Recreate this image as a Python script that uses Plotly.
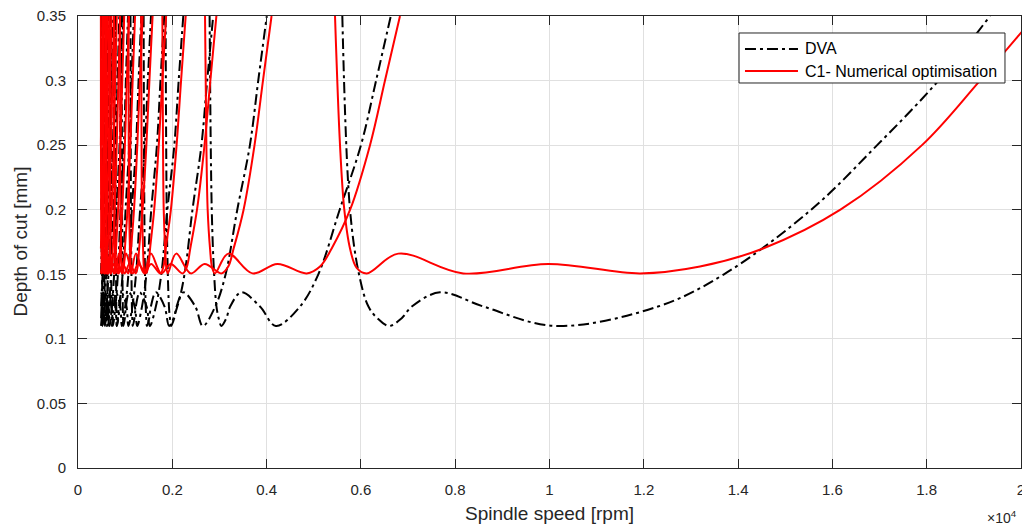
import plotly.graph_objects as go

# ---------------- axis ticks ----------------
x_tick_values = [0, 2000, 4000, 6000, 8000, 10000, 12000, 14000, 16000, 18000, 20000]
x_tick_labels = ['0', '0.2', '0.4', '0.6', '0.8', '1', '1.2', '1.4', '1.6', '1.8', '2']
y_tick_values = [0, 0.05, 0.1, 0.15, 0.2, 0.25, 0.3, 0.35]
y_tick_labels = ['0', '0.05', '0.1', '0.15', '0.2', '0.25', '0.3', '0.35']

# ---------------- DVA stability lobes ----------------
# depth [mm] of each characteristic point along a lobe (left branch -> right branch)
dva_depth_mm = [0.35, 0.2, 0.15, 0.125, 0.116, 0.11, 0.116, 0.125, 0.136, 0.125, 0.11,
                0.125, 0.15, 0.2, 0.25, 0.3, 0.35]
# spindle speed [rpm] of those points, one row per lobe (None = outside the computed speed range)
N = None
dva_lobe_speeds_rpm = [
    [5606, 5769, 5960, 6160, 6348, 6600, 6865, 7080, 7678, 8600, 10117, 12300, 13700, 15550, 16950, 18250, 19343],
    [2791, 2837, 2887, 2937, 2983, 3040, 3146, 3228, 3464, 3860, 4197, 4707, 5097, 5550, 6001, 6322, 6634],
    [1858, 1881, 1905, 1929, 1949, 1975, 2041, 2091, 2236, 2488, 2648, 2911, 3131, 3378, 3646, 3823, 4004],
    [1392, 1407, 1421, 1436, 1448, 1462, 1510, 1546, 1651, 1836, 1934, 2107, 2259, 2428, 2618, 2740, 2867],
    [1113, 1123, 1134, 1143, 1151, 1161, 1199, 1226, 1309, 1455, 1523, 1651, 1767, 1895, 2043, 2135, 2233],
    [927, 935, 943, 950, 956, 963, 994, 1016, 1084, 1204, 1256, 1357, 1451, 1554, 1674, 1749, 1829],
    [795, 801, 807, 812, 817, 822, 848, 868, 925, 1028, 1069, 1152, 1231, 1317, 1419, 1481, 1548],
    [695, 700, 705, 710, 713, 718, 740, 757, 807, 896, 931, 1001, 1069, 1142, 1231, 1285, 1342],
    [618, 622, 626, 630, 633, 637, 657, 671, 715, 794, 824, 885, 945, 1009, 1087, 1134, 1185],
    [556, 560, 563, 567, 569, 572, 590, 603, 643, 714, 739, 793, 846, 903, 973, 1015, 1060],
    [506, 509, 512, 515, 517, 519, 536, 547, 583, 648, 670, 718, 766, 818, 881, 919, 960],
    [N, N, N, N, N, N, 490, 501, 534, 593, 613, 656, 700, 747, 804, 839, 876],
    [N, N, N, N, N, N, N, N, 492, 546, 564, 604, 645, 687, 740, 772, 806],
    [N, N, N, N, N, N, N, N, N, 507, 523, 560, 597, 637, 686, 715, 747],
    [N, N, N, N, N, N, N, N, N, N, 488, 522, 556, 593, 639, 666, 695],
    [N, N, N, N, N, N, N, N, N, N, N, 488, 521, 555, 597, 623, 651],
    [N, N, N, N, N, N, N, N, N, N, N, N, 489, 521, 561, 585, 611],
    [N, N, N, N, N, N, N, N, N, N, N, N, N, 492, 529, 552, 576],
    [N, N, N, N, N, N, N, N, N, N, N, N, N, N, 501, 522, 545],
    [N, N, N, N, N, N, N, N, N, N, N, N, N, N, N, 495, 517],
]

# ---------------- C1 numerical optimisation stability lobes ----------------
c1_depth_mm = [0.35, 0.25, 0.2, 0.17, 0.155, 0.1507, 0.166, 0.1507, 0.158, 0.1507, 0.156,
               0.17, 0.2, 0.25, 0.3, 0.35]
c1_lobe_speeds_rpm = [
    [5451, 5557, 5648, 5769, 5910, 6123, 6793, 8170, 9975, 11920, 13192, 14530, 16170, 17900, 19130, 20300],
    [2694, 2723, 2750, 2800, 2846, 2905, 3187, 3701, 4229, 4850, 5133, 5380, 5771, 6193, 6511, 6829],
    [1789, 1803, 1818, 1848, 1874, 1905, 2082, 2392, 2684, 3044, 3187, 3301, 3512, 3744, 3923, 4105],
    [1339, 1348, 1357, 1380, 1397, 1417, 1546, 1767, 1965, 2218, 2310, 2381, 2524, 2683, 2807, 2935],
    [1070, 1076, 1083, 1101, 1114, 1128, 1230, 1401, 1550, 1745, 1812, 1862, 1970, 2091, 2186, 2284],
    [891, 896, 901, 915, 926, 937, 1021, 1161, 1280, 1438, 1491, 1529, 1616, 1713, 1790, 1869],
    [763, 767, 771, 784, 792, 801, 872, 991, 1090, 1223, 1266, 1297, 1369, 1450, 1515, 1582],
    [668, 671, 674, 685, 692, 700, 762, 864, 949, 1064, 1100, 1126, 1188, 1258, 1313, 1371],
    [593, 596, 599, 608, 615, 621, 676, 766, 840, 941, 973, 995, 1049, 1110, 1159, 1210],
    [534, 536, 539, 547, 553, 558, 608, 688, 754, 844, 872, 891, 939, 994, 1037, 1083],
    [485, 487, 490, 497, 502, 507, 552, 625, 684, 765, 790, 807, 850, 899, 939, 980],
    [N, N, N, N, N, N, 505, 572, 626, 700, 722, 737, 777, 821, 857, 894],
    [N, N, N, N, N, N, N, 527, 577, 645, 665, 679, 715, 756, 789, 823],
    [N, N, N, N, N, N, N, 489, 535, 598, 616, 629, 662, 700, 730, 762],
    [N, N, N, N, N, N, N, N, 498, 557, 574, 586, 617, 652, 680, 710],
    [N, N, N, N, N, N, N, N, N, 521, 537, 548, 577, 610, 636, 664],
    [N, N, N, N, N, N, N, N, N, 490, 505, 515, 542, 573, 598, 624],
    [N, N, N, N, N, N, N, N, N, N, N, 486, 511, 540, 564, 588],
    [N, N, N, N, N, N, N, N, N, N, N, N, N, 511, 533, 556],
    [N, N, N, N, N, N, N, N, N, N, N, N, N, 485, 506, 528],
]

series_names = ['DVA', 'C1- Numerical optimisation']


def lobes_to_xy(depths, lobes):
    xs, ys = [], []
    for lobe in lobes:
        pts = [(s, d) for s, d in zip(lobe, depths) if s is not None]
        if len(pts) < 2:
            continue
        xs += [p[0] for p in pts] + [None]
        ys += [p[1] for p in pts] + [None]
    return xs, ys


dva_x, dva_y = lobes_to_xy(dva_depth_mm, dva_lobe_speeds_rpm)
c1_x, c1_y = lobes_to_xy(c1_depth_mm, c1_lobe_speeds_rpm)

DVA_DASH = '11px,4px,3px,4px'

fig = go.Figure()
fig.add_trace(go.Scatter(
    x=dva_x, y=dva_y, mode='lines', name=series_names[0], connectgaps=False, showlegend=False,
    line=dict(color='#000000', width=2, dash=DVA_DASH, shape='spline', smoothing=1.0),
))
fig.add_trace(go.Scatter(
    x=c1_x, y=c1_y, mode='lines', name=series_names[1], connectgaps=False, showlegend=False,
    line=dict(color='#ff0000', width=2, shape='spline', smoothing=1.0),
))

axis_color = '#262626'
grid_color = '#e0e0e0'
font_family = 'Liberation Sans, Arial, sans-serif'
tick_font = dict(family=font_family, size=15, color=axis_color)

fig.update_xaxes(
    range=[0, 20000], tickvals=x_tick_values, ticktext=x_tick_labels,
    ticks='inside', ticklen=9, tickwidth=1, tickcolor=axis_color,
    showline=True, linecolor=axis_color, linewidth=1, mirror='ticks',
    showgrid=True, gridcolor=grid_color, gridwidth=1, zeroline=False,
    tickfont=tick_font, ticklabelstandoff=8, ticklabeloverflow='allow',
)
fig.update_yaxes(
    range=[0, 0.35], tickvals=y_tick_values, ticktext=y_tick_labels,
    ticks='inside', ticklen=9, tickwidth=1, tickcolor=axis_color,
    showline=True, linecolor=axis_color, linewidth=1, mirror='ticks',
    showgrid=True, gridcolor=grid_color, gridwidth=1, zeroline=False,
    tickfont=tick_font, ticklabelstandoff=8, ticklabeloverflow='allow',
)

# ---- legend box drawn in paper coordinates (matches the reference's boxed legend) ----
leg_x0, leg_x1, leg_y0, leg_y1 = 0.7010, 0.9830, 0.8518, 0.9624
sample_x0, sample_x1, text_x = 0.7073, 0.7635, 0.7688
row_y = [0.9270, 0.8783]

shapes = [
    dict(type='rect', xref='paper', yref='paper', x0=leg_x0, x1=leg_x1, y0=leg_y0, y1=leg_y1,
         fillcolor='white', line=dict(color=axis_color, width=1), layer='above'),
    dict(type='line', xref='paper', yref='paper', x0=sample_x0, x1=sample_x1, y0=row_y[0], y1=row_y[0],
         line=dict(color='#000000', width=2, dash=DVA_DASH), layer='above'),
    dict(type='line', xref='paper', yref='paper', x0=sample_x0, x1=sample_x1, y0=row_y[1], y1=row_y[1],
         line=dict(color='#ff0000', width=2), layer='above'),
]

annotations = [
    dict(text=series_names[0], xref='paper', yref='paper', x=text_x, y=row_y[0],
         xanchor='left', yanchor='middle', showarrow=False,
         font=dict(family=font_family, size=16, color='#000000')),
    dict(text=series_names[1], xref='paper', yref='paper', x=text_x, y=row_y[1],
         xanchor='left', yanchor='middle', showarrow=False,
         font=dict(family=font_family, size=16, color='#000000')),
    dict(text='Spindle speed [rpm]', xref='paper', yref='paper', x=0.5, y=-0.1,
         xanchor='center', yanchor='middle', showarrow=False,
         font=dict(family=font_family, size=19, color=axis_color)),
    dict(text='Depth of cut [mm]', xref='paper', yref='paper', x=-0.062, y=0.5,
         xanchor='center', yanchor='middle', textangle=-90, showarrow=False,
         font=dict(family=font_family, size=19, color=axis_color)),
    dict(text='×10<sup>4</sup>', xref='paper', yref='paper', x=0.998, y=-0.108,
         xanchor='right', yanchor='middle', showarrow=False,
         font=dict(family=font_family, size=14, color=axis_color)),
]

fig.update_layout(
    width=1022, height=526,
    margin=dict(l=78, r=1, t=16, b=58, autoexpand=False),
    paper_bgcolor='white', plot_bgcolor='white',
    font=dict(family=font_family, size=15, color=axis_color),
    showlegend=False,
    shapes=shapes,
    annotations=annotations,
)

fig.write_html(
    'out.html',
    config={'displayModeBar': False},
    post_script="document.body.style.margin='0';document.body.style.overflow='hidden';",
)
